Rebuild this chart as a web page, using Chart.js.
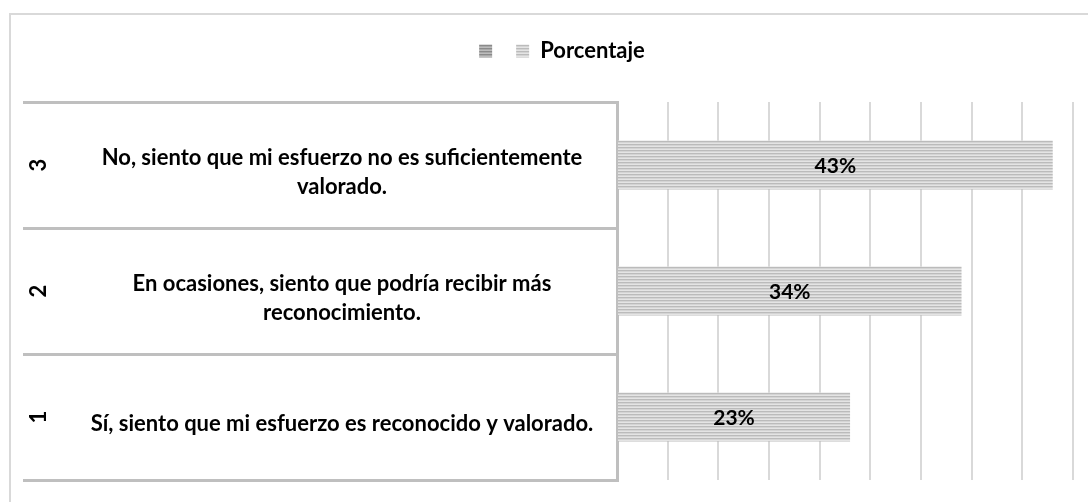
<!DOCTYPE html>
<html>
<head>
<meta charset="utf-8">
<script src="https://cdn.jsdelivr.net/npm/chart.js@4.4.0/dist/chart.umd.min.js"></script>
<style>
  html, body { margin: 0; padding: 0; background: #fff; }
  #wrap { width: 1088px; height: 502px; position: relative; }
</style>
</head>
<body>
<div id="wrap"><canvas id="myChart" width="1088" height="502"></canvas></div>
<script>
'use strict'

// data
const levelNumbers = ['1', '2', '3'];
const categories = [
    ['Sí, siento que mi esfuerzo es reconocido y valorado.'],
    ['En ocasiones, siento que podría recibir más', 'reconocimiento.'],
    ['No, siento que mi esfuerzo no es suficientemente', 'valorado.']
];
const percentages = [0.23, 0.34, 0.43];
const seriesNames = ['', 'Porcentaje'];
const xMax = 0.45;
const xStep = 0.05;

const FONT = 'Lato';
const labelFont = { family: FONT, size: 22, weight: 'bold', lineHeight: 1.32 };

const ctx = document.getElementById('myChart').getContext('2d');

// striped fill like the excel pattern
function stripes(rows) {
    const c = document.createElement('canvas');
    c.width = 4;
    c.height = rows.length;
    const g = c.getContext('2d');
    rows.forEach((col, i) => {
        g.fillStyle = col;
        g.fillRect(0, i, 4, 1);
    });
    return ctx.createPattern(c, 'repeat');
}
const barFill = stripes(['#bbbbbb', '#d4d4d4', '#e4e4e4']);
const otherFill = stripes(['#8a8a8a', '#a8a8a8', '#bcbcbc']);

// widest label line, used to center the labels inside the boxes
const m = document.createElement('canvas').getContext('2d');
m.font = 'bold 22px ' + FONT;
let widest = 0;
categories.forEach(lines => lines.forEach(t => { widest = Math.max(widest, m.measureText(t).width); }));

const boxLeft = 23;      // left end of the category boxes
const axisX = 617;       // where the plot area starts
const labelCenter = 342; // center of the label text

// the outer frame (only left and top show in the picture)
const framePlugin = {
    id: 'frame',
    beforeDraw(chart) {
        const c = chart.ctx;
        c.save();
        c.strokeStyle = '#d9d9d9';
        c.lineWidth = 2;
        c.beginPath();
        c.moveTo(10, 502);
        c.lineTo(10, 14);
        c.lineTo(1088, 14);
        c.stroke();
        c.restore();
        // legend sits a bit right of the centre in the picture
        const lg = chart.legend;
        if (lg && !lg._shifted) {
            const draw = lg.draw;
            lg.draw = function () {
                this.ctx.save();
                this.ctx.translate(14, 0);
                draw.apply(this, arguments);
                this.ctx.restore();
            };
            lg._shifted = true;
        }
    }
};

// value labels on the bars + rotated level numbers
const labelPlugin = {
    id: 'barLabels',
    afterDatasetsDraw(chart) {
        const c = chart.ctx;
        const meta = chart.getDatasetMeta(1);
        c.save();
        c.font = 'bold 21px ' + FONT;
        c.fillStyle = '#000';
        c.textAlign = 'center';
        c.textBaseline = 'middle';
        meta.data.forEach((bar, i) => {
            c.fillText(Math.round(percentages[i] * 100) + '%', (bar.x + bar.base) / 2, bar.y + 1);
        });
        c.font = 'bold 22px ' + FONT;
        const y = chart.scales.y;
        levelNumbers.forEach((n, i) => {
            c.save();
            c.translate(39, y.getPixelForValue(i));
            c.rotate(-Math.PI / 2);
            c.fillText(n, 0, 0);
            c.restore();
        });
        c.restore();
    }
};

const myChart = new Chart(ctx, {
    type: 'bar',
    data: {
        labels: categories,
        datasets: [{
            label: seriesNames[0],
            data: [null, null, null],
            backgroundColor: otherFill,
            borderWidth: 0,
            grouped: false
        }, {
            label: seriesNames[1],
            data: percentages,
            backgroundColor: barFill,
            borderWidth: 0,
            grouped: false,
            barPercentage: 0.39,
            categoryPercentage: 1
        }]
    },
    options: {
        indexAxis: 'y',
        responsive: false,
        animation: false,
        layout: {
            padding: { left: boxLeft, right: 15, top: 27, bottom: 22 }
        },
        plugins: {
            legend: {
                position: 'top',
                labels: {
                    font: { family: FONT, size: 22, weight: 'bold' },
                    color: '#000',
                    boxWidth: 13,
                    boxHeight: 13,
                    padding: 13
                }
            },
            tooltip: { enabled: false }
        },
        scales: {
            x: {
                position: 'top',
                min: 0,
                max: xMax,
                ticks: { display: false, stepSize: xStep },
                grid: { color: '#d9d9d9', lineWidth: 2, drawTicks: false },
                border: { display: false },
                afterFit: s => { s.height = 30; }
            },
            y: {
                reverse: true,
                grid: {
                    drawOnChartArea: false,
                    drawTicks: true,
                    tickLength: axisX - boxLeft,
                    color: '#bfbfbf',
                    lineWidth: 3
                },
                border: { display: true, color: '#bfbfbf', width: 3 },
                ticks: {
                    font: labelFont,
                    color: '#000',
                    crossAlign: 'center',
                    autoSkip: false,
                    labelOffset: 7,
                    padding: axisX - (axisX - boxLeft) - labelCenter - widest / 2
                },
                afterFit: s => { s.width = axisX - boxLeft; }
            }
        }
    },
    plugins: [framePlugin, labelPlugin]
});
</script>
</body>
</html>
